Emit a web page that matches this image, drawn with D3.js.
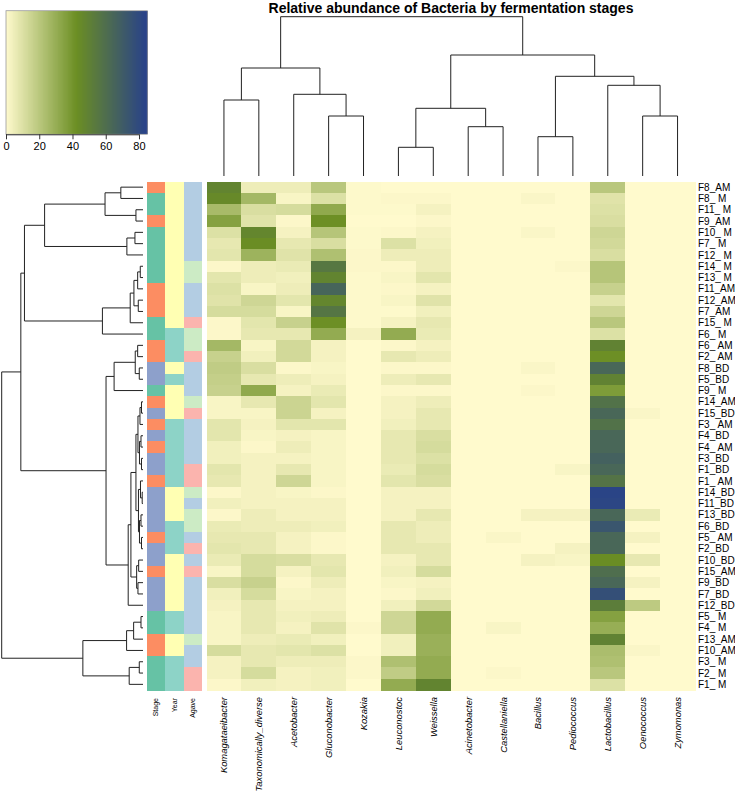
<!DOCTYPE html>
<html><head><meta charset="utf-8">
<script src="https://cdn.jsdelivr.net/npm/d3@7/dist/d3.min.js"></script>
<style>
body{margin:0;background:#fff;}
text{font-family:"Liberation Sans",Arial,Helvetica,sans-serif;fill:#000;}
</style>
</head><body>
<svg id="chart" width="735" height="794"></svg>
<script>
// ---------------- DATA ----------------
const title = "Relative abundance of Bacteria by fermentation stages";
const genera = ["Komagataeibacter","Taxonomically_diverse","Acetobacter","Gluconobacter","Kozakia",
  "Leuconostoc","Weissella","Acinetobacter","Castellaniella","Bacillus","Pediococcus",
  "Lactobacillus","Oenococcus","Zymomonas"];
const samples = ["F8_AM","F8_ M","F11_ M","F9_AM","F10_ M","F7_ M","F12_ M","F14_ M","F13_ M",
  "F11_AM","F12_AM","F7_AM","F15_ M","F6_ M","F6_ AM","F2_ AM","F8_BD","F5_BD","F9_ M","F14_AM",
  "F15_BD","F3_ AM","F4_BD","F4_ AM","F3_BD","F1_BD","F1_ AM","F14_BD","F11_BD","F13_BD","F6_BD",
  "F5_ AM","F2_BD","F10_BD","F15_AM","F9_BD","F7_BD","F12_BD","F5_ M","F4_ M","F13_AM","F10_AM",
  "F3_ M","F2_ M","F1_ M"];
const stage = ["AM","M","M","AM","M","M","M","M","M","AM","AM","AM","M","M","AM","AM","BD","BD","M","AM",
  "BD","AM","BD","AM","BD","BD","AM","BD","BD","BD","BD","AM","BD","BD","AM","BD","BD","BD","M","M","AM","AM",
  "M","M","M"];
const year = ["Y1","Y1","Y1","Y1","Y1","Y1","Y1","Y1","Y1","Y1","Y1","Y1","Y1","Y2","Y2","Y2","Y1","Y2","Y1","Y1",
  "Y1","Y2","Y2","Y2","Y2","Y2","Y2","Y1","Y1","Y1","Y2","Y2","Y2","Y1","Y1","Y1","Y1","Y1","Y2","Y2","Y1","Y1",
  "Y2","Y2","Y2"];
const agave = ["A","A","A","A","A","A","A","B","B","A","A","A","C","B","B","C","A","A","A","B",
  "C","A","A","A","A","C","C","B","A","B","B","A","C","A","C","A","A","A","A","A","B","A",
  "A","C","C"];

// relative abundance (%) per genus, in sample order above
const komagataeibacter = [48,45,25,35,10,7,8,1,8,10,9,12,1,1,26,16,18,17,16,2,2,8,8,4,4,8,7,1,4,1,6,7,8,6,2,11,4,3,2,2,2,12,3,3,1];
const taxonomicallyDiverse = [5,26,11,9,47,43,28,5,5,2,14,12,8,7,2,4,11,7,32,7,2,3,2,1,3,3,3,3,3,5,5,7,7,12,12,16,12,7,7,7,5,7,7,12,4];
const acetobacter = [5,2,12,1,3,7,9,6,4,5,8,2,16,7,13,13,1,5,3,15,15,8,3,5,3,7,14,2,3,3,5,3,3,11,3,1,2,3,4,3,6,8,5,3,3];
const gluconobacter = [20,10,32,42,21,11,23,55,48,65,47,56,42,31,3,3,2,3,6,8,3,8,2,2,2,2,2,1,3,3,4,1,1,7,8,5,3,3,5,9,4,10,5,4,4];
const kozakia = [0.5,0.5,0.5,0,0.5,0.5,1,1,0.5,0.5,0.5,0.5,0.5,3,0,0,0,0,0,0,0,0,0,0,0,0,0,0,0,0,0,0,0,0,0,0,0,0,0,1,0,0,1,1,0];
const leuconostoc = [0,1,0.5,0,1,10,5,1,2,1,2,0.5,3,31,1,7,1,5,1,3,3,4,7,7,7,6,8,3,3,3,7,7,7,3,4,2,1,4,14,14,4,4,23,18,31];
const weissella = [0,1,3,1,3,4,5,5,8,3,9,4,7,6,3,5,1,7,1,5,7,7,11,12,10,12,11,3,3,7,5,5,7,7,12,3,4,13,31,31,29,29,31,31,48];
const acinetobacter = [0,0,0,0,0,0,0,0,0,0,0,0,0,0,0,0,0,0,0,0,0,0,0,0,0,0,0,0,0,0,0,0,0,0,0,0,0,0,0,0,0,0,0,0,0];
const castellaniella = [0,0,0,0,0,0,0,0,0,0,0,0,0,0,0,0,0,0,0,0,0,0,0,0,0,0,0,0,0,0,0,1.5,0,0,0,0,0,0,0,2,0,0,0,1,0];
const bacillus = [0,1.5,0,0,1.5,0,0,0,0,0,0,0,0,0,0,0,1.5,0,1,0,0,0,0,0,0,0,0,0,0,3,0,0,0,3,0,0,0,0,0,0,0,0,0,0,0];
const pediococcus = [0,0,0,0,0,0,0,1,0,0,0,0,0,0,0,0,0,0,0,0,0,0,0,0,0,2,0,0,0,3,0,0,3,2,0,0,0,0,0,0,0,0,0,0,0];
const lactobacillus = [20,9,10,11,14,13,11,21,21,16,8,14,20,10,49,42,64,49,37,58,64,58,64,64,67,64,57,83,82,64,73,64,64,43,60,64,77,52,35,30,49,24,23,20,10];
const oenococcus = [0,0,0,0,0,0,0,0,0,0,0,0,0,0,0,0,0,0,0,0,1.5,0,0,0,0,0,0,0,0,6,0,3,0,7,0,3,0,19,0,0,0,1.5,0,0,0];
const zymomonas = [0,0,0,0,0,0,0,0,0,0,0,0,0,0,0,0,0,0,0,0,0,0,0,0,0,0,0,0,0,0,0,0,0,0,0,0,0,0,0,0,0,0,0,0,0];

const genusValues = [komagataeibacter,taxonomicallyDiverse,acetobacter,gluconobacter,kozakia,leuconostoc,
  weissella,acinetobacter,castellaniella,bacillus,pediococcus,lactobacillus,oenococcus,zymomonas];

// dendrograms: [left, right, height]; numbers are leaf indices (display order)
const colTree = [
  [[0,1,76],[2,[3,4,60],81.7],108],
  [[[5,6,28.7],[7,8,49.3],67.7],[[9,10,39.3],[11,[12,13,60],90.7],99.7],121],
  159.3];
const rowTree = [
  [
    [
      [[[0,1,22],[2,3,7],37.7],[[4,5,8],6,16],97.7],
      [[[[[7,8,2.7],9,5.3],[10,11,4.7],9],12,12.7],13,40.3],
      117.7],
    [
      [[[14,15,5.3],[16,17,3.7],7.7],18,28.7],
      [[[[[[19,20,1.5],21,3],[[22,23,2],[24,25,1.5],3.5],5],
          [[26,[27,28,0.8],2.5],[[29,30,2],[31,32,1.5],3.5],4.5],7],
         [[33,34,4.3],[35,36,5],6.3],12],37,14.7],
      36.7],
    121.3],
  [[[[38,39,2],40,9.3],41,16.3],[[42,43,3.7],44,13.7],59.7],
  140.3];

const keyTicks = [0,20,40,60,80];
const keyMax = 85;
const annotLabels = ["Stage","Year","Agave"];

// ---------------- DRAWING ----------------
const svg = d3.select("#chart");
const hmX0 = 206.5, hmX1 = 695, hmY0 = 181.5, hmY1 = 690;

const color = d3.scaleLinear().domain([0, keyMax/2, keyMax])
  .range(["#FFFACD","#6B8E23","#27408B"]).interpolate(d3.interpolateRgb).clamp(true);

const x = d3.scaleBand().domain(genera).range([hmX0, hmX1]);
const y = d3.scaleBand().domain(samples).range([hmY0, hmY1]);

// title
svg.append("text").attr("x", 451).attr("y", 13).attr("text-anchor","middle")
  .attr("font-size", 14).attr("font-weight","bold").text(title);

// cells
const cells = [];
genusValues.forEach((arr, gi) => arr.forEach((v, si) => cells.push({g: genera[gi], s: samples[si], v})));
svg.append("g").attr("shape-rendering","crispEdges").selectAll("rect").data(cells).join("rect")
  .attr("x", d => x(d.g)).attr("y", d => y(d.s))
  .attr("width", x.bandwidth()+0.5).attr("height", y.bandwidth()+0.5)
  .attr("fill", d => color(d.v));

// annotation bars
const stageColor = d3.scaleOrdinal().domain(["AM","M","BD"]).range(["#FC8D62","#66C2A5","#8DA0CB"]);
const yearColor = d3.scaleOrdinal().domain(["Y1","Y2"]).range(["#FFFFB3","#8DD3C7"]);
const agaveColor = d3.scaleOrdinal().domain(["A","B","C"]).range(["#B3CDE3","#CCEBC5","#FBB4AE"]);
const annX = d3.scaleBand().domain(annotLabels).range([146.5, 202]);
const annData = [
  {k:"Stage", vals: stage, c: stageColor},
  {k:"Year", vals: year, c: yearColor},
  {k:"Agave", vals: agave, c: agaveColor}];
const ag = svg.append("g").attr("shape-rendering","crispEdges");
annData.forEach(a => {
  ag.append("g").selectAll("rect").data(samples).join("rect")
    .attr("x", annX(a.k)).attr("y", s => y(s))
    .attr("width", annX.bandwidth()+0.3).attr("height", y.bandwidth()+0.5)
    .attr("fill", (s,i) => a.c(a.vals[i]));
});
svg.append("g").selectAll("text").data(annotLabels).join("text")
  .attr("transform", d => `translate(${annX(d)+annX.bandwidth()/2+2.5},698) rotate(-90)`)
  .attr("text-anchor","end").attr("font-size", 7).text(d => d);

// row labels
svg.append("g").selectAll("text").data(samples).join("text")
  .attr("x", 698).attr("y", d => y(d)+y.bandwidth()/2+3.6)
  .attr("font-size", 10).style("white-space","pre").text(d => d);

// column labels
svg.append("g").selectAll("text").data(genera).join("text")
  .attr("transform", d => `translate(${x(d)+x.bandwidth()/2+3.5},697) rotate(-90)`)
  .attr("text-anchor","end").attr("font-size", 9.4).attr("font-style","italic").text(d => d);

// dendrogram helper
function walk(node, segs) {
  if (typeof node === "number") return {p: node, h: 0};
  const a = walk(node[0], segs), b = walk(node[1], segs);
  const n = {p: (a.p + b.p)/2, h: node[2]};
  segs.push({a, b, n});
  return n;
}
// row dendrogram
const rowSegs = []; walk(rowTree, rowSegs);
const rowPos = d3.scaleLinear().domain([-0.5, samples.length-0.5]).range([hmY0, hmY1]);
const rowH = d3.scaleLinear().domain([0, 140.3]).range([143, 1.7]);
svg.append("g").selectAll("path").data(rowSegs).join("path")
  .attr("d", d => `M${rowH(d.a.h)},${rowPos(d.a.p)}H${rowH(d.n.h)}V${rowPos(d.b.p)}H${rowH(d.b.h)}`)
  .attr("fill","none").attr("stroke","#222").attr("stroke-width",1);

// column dendrogram
const colSegs = []; walk(colTree, colSegs);
const colPos = d3.scaleLinear().domain([-0.5, genera.length-0.5]).range([hmX0, hmX1]);
const colH = d3.scaleLinear().domain([0, 159.3]).range([176, 16.7]);
svg.append("g").selectAll("path").data(colSegs).join("path")
  .attr("d", d => `M${colPos(d.a.p)},${colH(d.a.h)}V${colH(d.n.h)}H${colPos(d.b.p)}V${colH(d.b.h)}`)
  .attr("fill","none").attr("stroke","#222").attr("stroke-width",1);

// colour key
const kx = d3.scaleLinear().domain([0, keyMax]).range([6, 147.3]);
const kY0 = 10.7, kY1 = 134.3;
const keySteps = d3.range(0, keyMax, 0.5);
svg.append("g").attr("shape-rendering","crispEdges").selectAll("rect").data(keySteps).join("rect")
  .attr("x", d => kx(d)).attr("y", kY0).attr("width", kx(0.5)-kx(0)+0.4).attr("height", kY1-kY0)
  .attr("fill", d => color(d+0.25));
svg.append("rect").attr("x", kx(0)).attr("y", kY0).attr("width", kx(keyMax)-kx(0)).attr("height", kY1-kY0)
  .attr("fill","none").attr("stroke","#999").attr("stroke-width",0.8);
const axis = svg.append("g").attr("transform", `translate(0,${kY1})`)
  .call(d3.axisBottom(kx).tickValues(keyTicks).tickSize(5).tickPadding(3));
axis.select(".domain").attr("d", `M${kx(keyTicks[0])},0.5H${kx(keyTicks[keyTicks.length-1])}`).attr("stroke","#333");
axis.selectAll(".tick line").attr("stroke","#333");
axis.selectAll(".tick text").attr("font-size", 11).attr("font-family","Liberation Sans, Arial, sans-serif").attr("fill","#000");
</script>
</body></html>
